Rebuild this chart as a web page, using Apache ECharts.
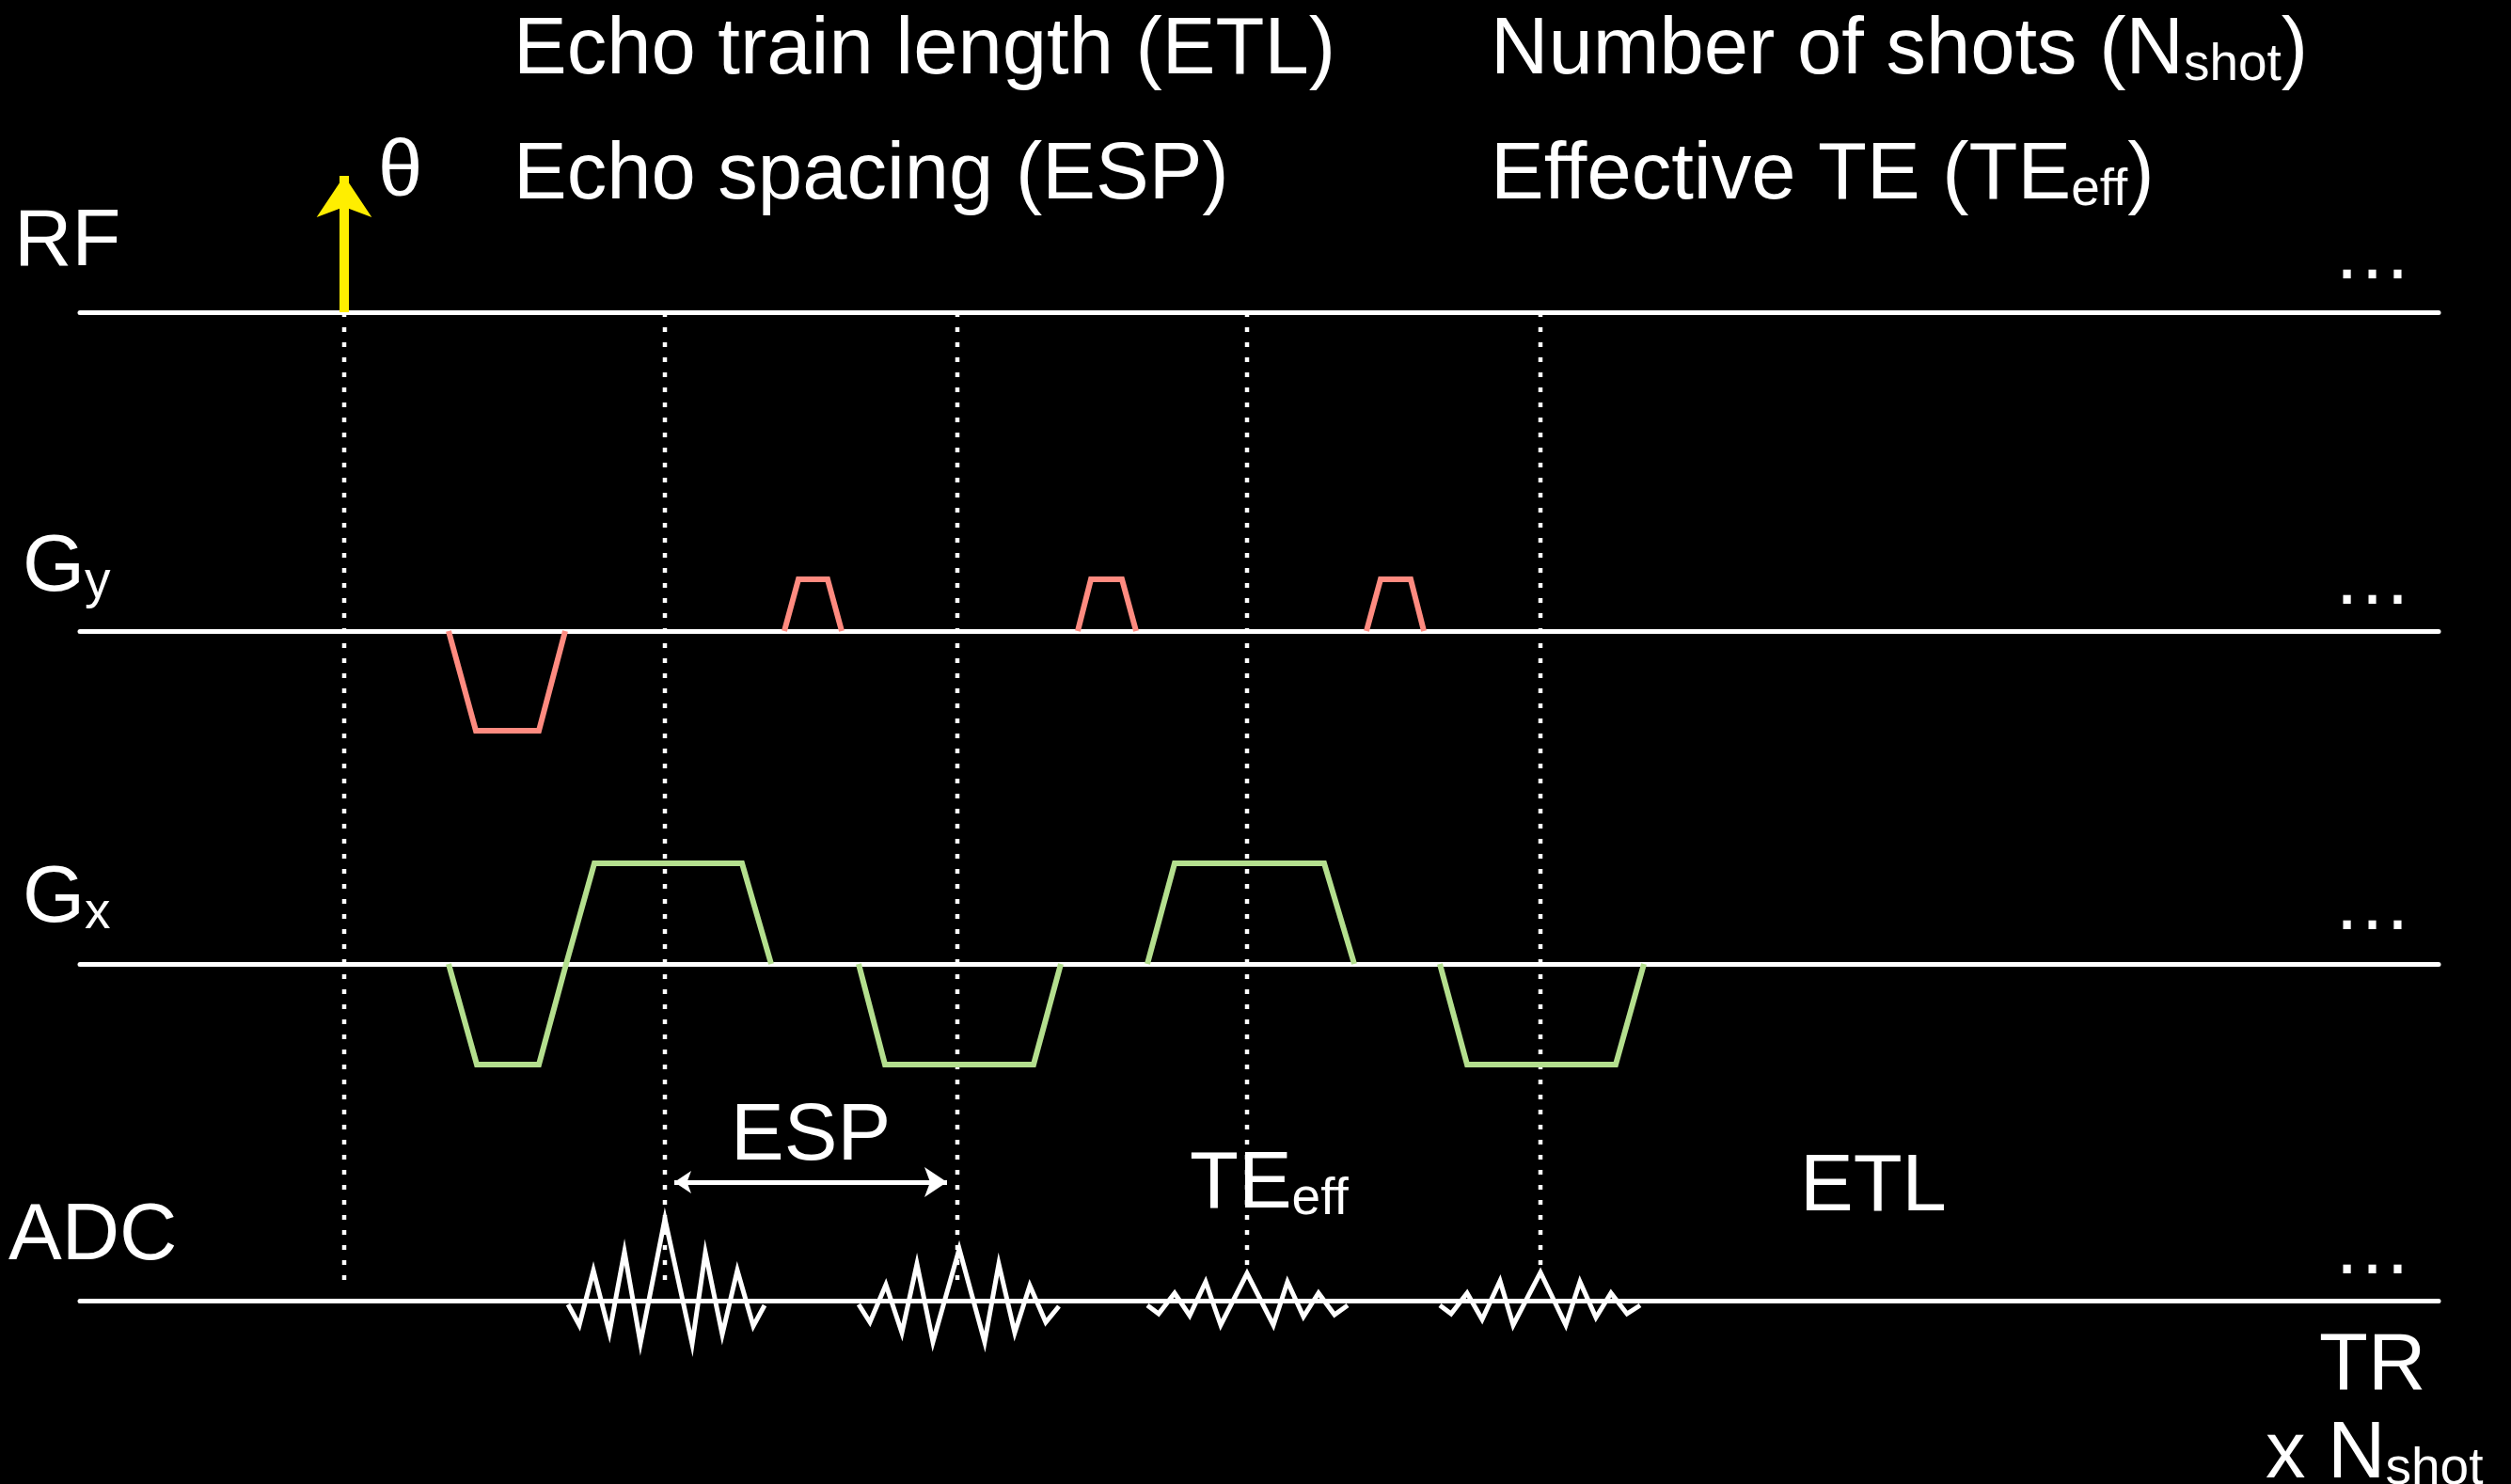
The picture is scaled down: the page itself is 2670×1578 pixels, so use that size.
<!DOCTYPE html>
<html>
<head>
<meta charset="utf-8">
<script src="https://cdn.jsdelivr.net/npm/echarts@6/dist/echarts.min.js"></script>
<style>
html,body{margin:0;padding:0;background:#000;}
#chart{width:2670px;height:1578px;}
</style>
</head>
<body>
<div id="chart"></div>
<script>
// ---------------- DATA (time in arbitrary units, amplitudes in arbitrary units) ----------------
const timeRange = [0, 2508];
const rfPulse = { time: 281, amp: 145 };
const echoTimes = [622, 933, 1241, 1553];
const rfGuideEnd = 1036;                     // depth below RF line where the RF guide ends
const echoGuideEnd = [1031, 1031, 1020, 1020];

const gyLobes = [
  [[392, 0], [421, -106], [488, -106], [516, 0]],
  [[749, 0], [764, 55], [795, 55], [810, 0]],
  [[1061, 0], [1075, 55], [1108, 55], [1123, 0]],
  [[1368, 0], [1383, 55], [1415, 55], [1429, 0]]
];

const gxLobes = [
  [[392, 0], [422, -107], [488, -107], [517, 0], [547, 107], [704, 107], [735, 0]],
  [[828, 0], [856, -107], [1014, -107], [1043, 0]],
  [[1135, 0], [1164, 107], [1323, 107], [1355, 0]],
  [[1446, 0], [1475, -107], [1633, -107], [1663, 0]]
];

const adcTimes = [
  [519, 531, 546, 563, 579, 596, 622, 651, 665, 683, 699, 716, 728],
  [828, 840, 857, 874, 890, 907, 935, 962, 977, 994, 1010, 1027, 1041],
  [1135, 1147, 1164, 1180, 1197, 1213, 1241, 1269, 1284, 1301, 1317, 1334, 1348],
  [1446, 1458, 1475, 1491, 1510, 1524, 1553, 1580, 1595, 1612, 1628, 1645, 1659]
];
const adcAmps = [
  [-4, -26, 32, -34, 52, -45, 87, -46, 51, -36, 32, -27, -5],
  [-4, -23, 17, -34, 39, -44, 55, -44, 39, -34, 16, -23, -6],
  [-5, -14, 8, -16, 20, -26, 29, -26, 20, -17, 8, -15, -5],
  [-5, -14, 8, -20, 21, -26, 30, -26, 20, -18, 8, -14, -5]
];

const espArrow = { from: 632, to: 922, amp: 126 };

const channelLabels = ['RF', 'G{s|y}', 'G{s|x}', 'ADC'];
const headingTexts = ['Echo train length (ETL)', 'Echo spacing (ESP)', 'Number of shots (N{s|shot})', 'Effective TE (TE{s|eff})'];
const flipLabel = 'θ';
const annotationTexts = ['ESP', 'TE{s|eff}', 'ETL', 'TR', 'x N{s|shot}'];
const continuation = '…';

// ---------------- LAYOUT / STYLE ----------------
const L = { left: 85, width: 2508, baselines: [332, 671, 1025, 1383], half: 160 };
const FONT = '"Liberation Sans", Arial, Helvetica, sans-serif';
const FS = 85;
const WHITE = '#ffffff';
const GY_COLOR = '#FF8B80';
const GX_COLOR = '#B4DF8E';
const RF_COLOR = '#FFEE00';

const grids = L.baselines.map(b => ({ left: L.left, width: L.width, top: b - L.half, height: 2 * L.half }));
grids.push({ left: L.left, width: L.width, top: L.baselines[0], height: L.baselines[3] - L.baselines[0] });

const xAxes = L.baselines.map((b, i) => ({
  gridIndex: i, type: 'value', min: timeRange[0], max: timeRange[1],
  axisLine: { show: true, onZero: true, lineStyle: { color: WHITE, width: 5 } },
  axisTick: { show: false }, axisLabel: { show: false }, splitLine: { show: false }
}));
xAxes.push({ gridIndex: 4, type: 'value', min: timeRange[0], max: timeRange[1], show: false });

const yAxes = L.baselines.map((b, i) => ({
  gridIndex: i, type: 'value', min: -L.half, max: L.half,
  axisLine: { show: false }, axisTick: { show: false }, axisLabel: { show: false }, splitLine: { show: false }
}));
yAxes.push({ gridIndex: 4, type: 'value', min: 0, max: L.baselines[3] - L.baselines[0], inverse: true, show: false });

const series = [];
function wave(idx, data, color, width, z) {
  series.push({
    type: 'line', xAxisIndex: idx, yAxisIndex: idx, data: data, showSymbol: false, symbol: 'none',
    clip: false, silent: true, animation: false, z: z || 3,
    lineStyle: { color: color, width: width, join: 'miter', miterLimit: 20, cap: 'butt' }
  });
}
// Guides (dotted)
const guideStyle = { color: WHITE, width: 4.5, type: [5, 11] };
series.push({
  type: 'line', xAxisIndex: 4, yAxisIndex: 4, data: [[rfPulse.time, 0], [rfPulse.time, rfGuideEnd]],
  showSymbol: false, symbol: 'none', clip: false, silent: true, animation: false, z: 2, lineStyle: guideStyle
});
echoTimes.forEach((t, i) => {
  series.push({
    type: 'line', xAxisIndex: 4, yAxisIndex: 4, data: [[t, 0], [t, echoGuideEnd[i]]],
    showSymbol: false, symbol: 'none', clip: false, silent: true, animation: false, z: 2, lineStyle: guideStyle
  });
});
// Gradients
gyLobes.forEach(l => wave(1, l, GY_COLOR, 6));
gxLobes.forEach(l => wave(2, l, GX_COLOR, 6));
// ADC echoes
adcTimes.forEach((ts, i) => wave(3, ts.map((t, j) => [t, adcAmps[i][j]]), WHITE, 5));
// RF pulse arrow
series.push({
  type: 'lines', coordinateSystem: 'cartesian2d', xAxisIndex: 0, yAxisIndex: 0, polyline: false,
  silent: true, animation: false, z: 4,
  symbol: ['none', 'arrow'], symbolSize: [34, 44],
  lineStyle: { color: RF_COLOR, width: 10, opacity: 1, curveness: 0 },
  data: [{ coords: [[rfPulse.time, 0], [rfPulse.time, rfPulse.amp]] }]
});
// ESP double arrow
series.push({
  type: 'lines', coordinateSystem: 'cartesian2d', xAxisIndex: 3, yAxisIndex: 3, polyline: false,
  silent: true, animation: false, z: 4,
  symbol: ['arrow', 'arrow'], symbolSize: [18, 24],
  lineStyle: { color: WHITE, width: 5, opacity: 1, curveness: 0 },
  data: [{ coords: [[espArrow.from, espArrow.amp], [espArrow.to, espArrow.amp]] }]
});

// Text
const rich = { s: { fontSize: 55, fontFamily: FONT, fill: WHITE, verticalAlign: 'bottom', lineHeight: 54 } };
function txt(x, baseline, text) {
  return {
    type: 'text', x: x, y: baseline - 22.5, silent: true, z: 10,
    style: { text: text, fill: WHITE, fontSize: FS, fontFamily: FONT, lineHeight: FS,
      verticalAlign: 'middle', align: 'left', rich: rich }
  };
}
const graphics = [
  txt(546, 77, headingTexts[0]),
  txt(546, 210, headingTexts[1]),
  txt(1585, 77, headingTexts[2]),
  txt(1585, 210, headingTexts[3]),
  txt(402, 207, flipLabel),
  txt(15, 281, channelLabels[0]),
  txt(24, 627, channelLabels[1]),
  txt(24, 979, channelLabels[2]),
  txt(9, 1338, channelLabels[3]),
  txt(777, 1232, annotationTexts[0]),
  txt(1265, 1283, annotationTexts[1]),
  txt(1914, 1286, annotationTexts[2]),
  txt(2466, 1476, annotationTexts[3]),
  txt(2409, 1570, annotationTexts[4])
];
[295, 641, 987, 1353].forEach(b => graphics.push(txt(2480, b, continuation)));

const chart = echarts.init(document.getElementById('chart'), null, { renderer: 'canvas' });
chart.setOption({
  backgroundColor: '#000000',
  animation: false,
  grid: grids,
  xAxis: xAxes,
  yAxis: yAxes,
  series: series,
  graphic: graphics
});
</script>
</body>
</html>
